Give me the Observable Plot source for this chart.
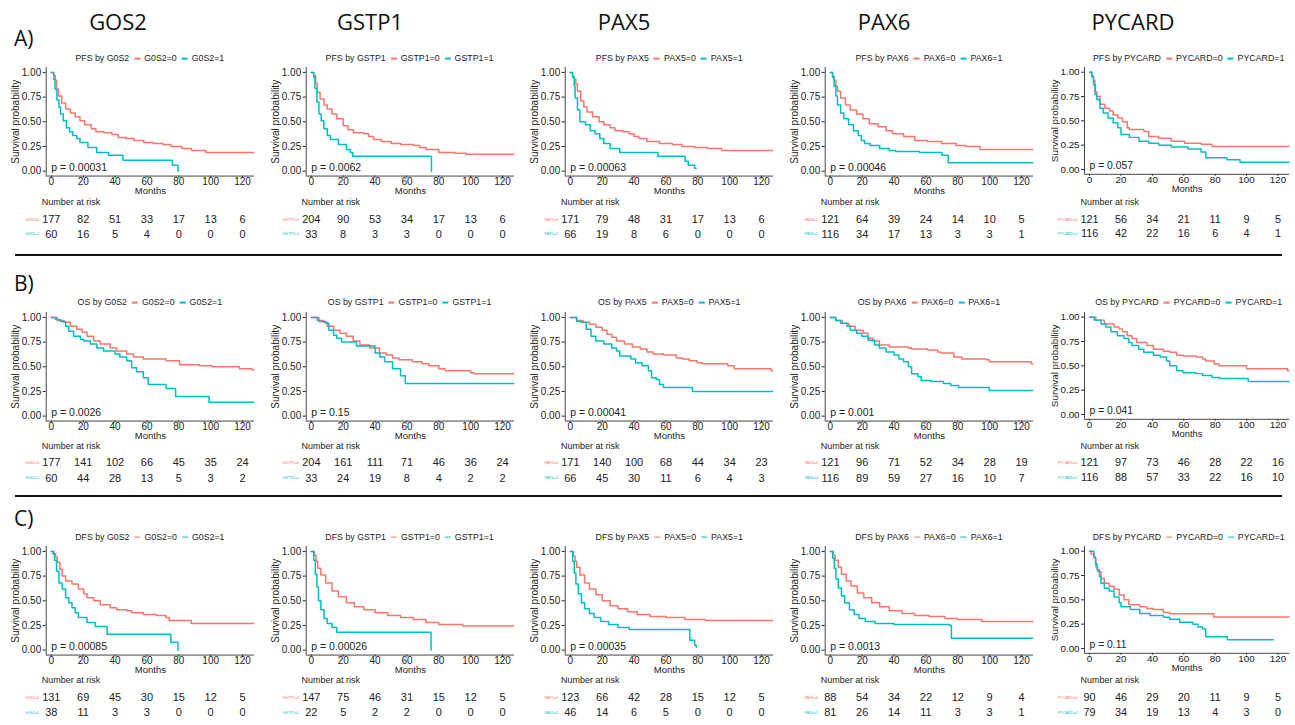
<!DOCTYPE html>
<html><head><meta charset="utf-8">
<script src="https://cdn.jsdelivr.net/npm/d3@7"></script>
<script src="https://cdn.jsdelivr.net/npm/@observablehq/plot@0.6"></script>
<style>
body{margin:0;background:#fff;}
#fig{position:relative;width:1295px;height:725px;overflow:hidden;font-family:"Liberation Sans",Arial,sans-serif;background:#fff;}
.abs{position:absolute;}
.hdr{font-family:"Open Sans",sans-serif;font-size:22px;color:#111;transform:translate(-50%,-50%);white-space:nowrap;line-height:1;}
.rowlab{font-family:"Open Sans",sans-serif;font-size:21px;color:#111;transform:translateY(-50%);line-height:1;}
.leg{font-size:8.8px;color:#222;transform:translate(-50%,-50%);white-space:nowrap;line-height:1;}
.key{display:inline-block;width:6px;height:1.4px;vertical-align:middle;margin:0 4px 0 5px;}
.nar{font-size:9px;color:#222;transform:translateY(-50%);white-space:nowrap;line-height:1;}
.sep{height:1.5px;background:#111;}
svg text{font-family:"Liberation Sans",Arial,sans-serif;}
</style></head><body><div id="fig"></div>
<script>
// ---------- labels ----------
const genes = ["G0S2","GSTP1","PAX5","PAX6","PYCARD"];
const headers = ["GOS2","GSTP1","PAX5","PAX6","PYCARD"];
const endpoints = ["PFS","OS","DFS"];
const rowLabels = ["A)","B)","C)"];
const xTicks = [0,20,40,60,80,100,120];
const yTicks = [0,0.25,0.5,0.75,1];
const riskTimes = [0,20,40,60,80,100,120];
const colors = ["#F8766D","#00BFC4"];
const pPFS = ["0.00031","0.0062","0.00063","0.00046","0.057"];
const pOS  = ["0.0026","0.15","0.00041","0.001","0.041"];
const pDFS = ["0.00085","0.00026","0.00035","0.0013","0.11"];

// ---------- KM curves [months, survival] ----------
const pfs_G0S2_0 = [[0,1],[1.5,0.97],[2.5,0.92],[3.3,0.83],[4.5,0.76],[6.5,0.69],[9,0.63],[12,0.59],[15,0.55],[18,0.51],[21,0.47],[25,0.43],[28,0.40],[33,0.39],[38,0.37],[42,0.34],[47,0.33],[52,0.31],[58,0.29],[64,0.28],[70,0.27],[75,0.25],[82,0.23],[88,0.21],[97,0.19],[127,0.19]];
const pfs_G0S2_1 = [[0,1],[1.5,0.93],[2.3,0.83],[3.5,0.72],[4.8,0.65],[5.8,0.58],[7.5,0.51],[9.5,0.44],[11.5,0.40],[13.5,0.36],[16,0.33],[18,0.29],[23,0.24],[28.5,0.19],[36,0.16],[45,0.11],[76,0.06],[79.5,0.0]];
const pfs_GSTP1_0 = [[0,1],[1.5,0.97],[2.7,0.89],[3.7,0.80],[5.5,0.73],[8,0.67],[10,0.63],[13,0.58],[16,0.53],[20,0.46],[23,0.42],[26.5,0.39],[33,0.38],[36,0.35],[39,0.32],[44,0.30],[50,0.28],[56,0.27],[64,0.26],[68,0.24],[72,0.22],[80,0.19],[90,0.18],[97,0.17],[127,0.17]];
const pfs_GSTP1_1 = [[0,1],[1.5,0.95],[2.3,0.84],[3.5,0.70],[4.8,0.58],[6.2,0.51],[7.9,0.43],[10,0.36],[12,0.32],[17,0.27],[22,0.22],[24.5,0.19],[26,0.15],[75.3,0.15],[75.4,0]];
const pfs_PAX5_0 = [[0,1],[1.5,0.96],[2.5,0.93],[3.5,0.88],[4.5,0.81],[6.5,0.71],[8.5,0.65],[10.5,0.60],[14,0.55],[18,0.50],[21,0.47],[25,0.44],[28,0.41],[33,0.40],[37,0.38],[40,0.35],[43,0.33],[48,0.30],[56,0.28],[64,0.27],[70,0.25],[78,0.24],[86,0.23],[95,0.21],[127,0.21]];
const pfs_PAX5_1 = [[0,1],[1.4,0.95],[2.5,0.86],[3,0.74],[4.5,0.62],[6,0.50],[9.5,0.47],[12.5,0.41],[15.5,0.38],[18.5,0.33],[21,0.28],[25,0.23],[31,0.19],[55,0.15],[72,0.10],[74,0.06],[78,0.03],[79,0.03]];
const pfs_PAX6_0 = [[0,1],[1.5,0.96],[2.5,0.92],[3.5,0.86],[4.5,0.81],[6.5,0.74],[9.5,0.67],[12.5,0.62],[16.5,0.58],[20.5,0.53],[24.5,0.48],[30,0.45],[35,0.41],[39,0.38],[46,0.35],[53,0.31],[61,0.30],[70,0.28],[79,0.26],[85,0.25],[94,0.22],[127,0.22]];
const pfs_PAX6_1 = [[0,1],[1.4,0.95],[2.4,0.86],[3.5,0.76],[4.5,0.67],[6.5,0.59],[8.5,0.53],[11.5,0.47],[14.5,0.41],[17.5,0.36],[19.5,0.31],[21.5,0.28],[25,0.26],[31,0.23],[37,0.21],[41,0.20],[56,0.19],[70,0.16],[74,0.085],[127,0.085]];
const pfs_PYCARD_0 = [[0,1],[1.5,0.96],[2.5,0.91],[3.5,0.80],[4.6,0.75],[6.6,0.67],[9.7,0.63],[12.8,0.60],[15,0.56],[18,0.53],[21,0.49],[24,0.43],[25.3,0.41],[34.6,0.39],[37.7,0.34],[44,0.32],[52,0.29],[60.5,0.27],[71,0.26],[78,0.235],[127,0.235]];
const pfs_PYCARD_1 = [[0,1],[1.5,0.95],[2.5,0.87],[3.5,0.77],[4.6,0.72],[6.6,0.63],[8.7,0.58],[11.8,0.53],[15,0.48],[18,0.43],[20,0.36],[25.3,0.33],[31.5,0.29],[37.7,0.27],[44,0.25],[52,0.23],[62.6,0.21],[71,0.18],[74,0.12],[87.5,0.10],[95.8,0.075],[127,0.075]];

const os_G0S2_0 = [[0,1],[3.7,0.97],[7.9,0.95],[12,0.91],[16,0.88],[19.3,0.85],[22.4,0.81],[26.6,0.76],[30.7,0.73],[37,0.69],[41,0.66],[47.3,0.63],[51.5,0.60],[57.7,0.58],[72,0.56],[80.5,0.52],[93,0.51],[101,0.50],[118,0.48],[126,0.47],[127,0.47]];
const os_G0S2_1 = [[0,1],[2.7,0.98],[5.8,0.96],[9,0.91],[11,0.86],[14,0.81],[18.3,0.78],[20.3,0.76],[24.5,0.73],[28.6,0.69],[32.8,0.66],[40,0.63],[43,0.60],[47.3,0.56],[50.4,0.49],[53.5,0.45],[57.7,0.39],[60.8,0.32],[72,0.28],[78,0.20],[99,0.14],[127,0.14]];
const os_GSTP1_0 = [[0,1],[3.7,0.97],[7.8,0.95],[9.9,0.91],[14,0.87],[18,0.84],[22,0.81],[26.3,0.76],[30.5,0.72],[36.6,0.69],[42.8,0.64],[47,0.62],[51,0.59],[55,0.57],[63.4,0.55],[69.5,0.53],[73.7,0.51],[80,0.48],[84,0.46],[100,0.44],[102,0.43],[127,0.43]];
const os_GSTP1_1 = [[0,1],[4.7,0.96],[8.9,0.94],[11,0.87],[14,0.82],[16,0.79],[19,0.75],[28.4,0.71],[40,0.64],[43,0.60],[46,0.55],[51,0.48],[56,0.41],[59,0.33],[127,0.33]];
const os_PAX5_0 = [[0,1],[4,0.97],[8,0.95],[12,0.93],[16,0.90],[20,0.87],[23,0.83],[26,0.80],[29,0.76],[34,0.73],[39,0.70],[44,0.68],[48,0.65],[52,0.63],[58.5,0.62],[66.5,0.59],[70.5,0.58],[74.6,0.56],[79.6,0.54],[82.7,0.53],[98.8,0.51],[102.8,0.48],[126,0.46],[127,0.46]];
const os_PAX5_1 = [[0,1],[4,0.96],[7,0.95],[10,0.88],[13,0.81],[16,0.76],[21,0.73],[26,0.69],[29,0.66],[31,0.61],[38,0.58],[41,0.54],[45,0.51],[49,0.46],[51,0.39],[54,0.37],[56,0.32],[58.5,0.29],[76.6,0.25],[127,0.25]];
const os_PAX6_0 = [[0,1],[3.4,0.97],[7.5,0.94],[11.6,0.91],[15.6,0.87],[20.7,0.84],[23.7,0.79],[26.8,0.76],[30.8,0.72],[37,0.70],[49,0.69],[51,0.68],[61,0.67],[67.3,0.65],[69.4,0.64],[77.5,0.60],[82.6,0.58],[97.8,0.57],[99.8,0.55],[126,0.53],[127,0.53]];
const os_PAX6_1 = [[0,1],[3.4,0.97],[6.5,0.94],[10.5,0.91],[12.6,0.87],[16.6,0.84],[19.7,0.81],[23.7,0.77],[27.8,0.72],[30.8,0.69],[35,0.65],[40,0.62],[43,0.58],[46,0.55],[49,0.50],[51,0.43],[55,0.40],[57,0.36],[63,0.35],[71,0.33],[75.5,0.31],[80.5,0.29],[99.8,0.26],[127,0.26]];
const os_PYCARD_0 = [[0,1],[4,0.97],[9.4,0.93],[15.6,0.90],[18.8,0.88],[21,0.85],[24,0.81],[27,0.78],[30,0.74],[36.5,0.71],[40.7,0.67],[47,0.65],[51,0.64],[55.4,0.61],[59.5,0.60],[67.8,0.59],[72,0.57],[74,0.55],[79.4,0.52],[82.5,0.50],[100,0.47],[126,0.45],[127,0.45]];
const os_PYCARD_1 = [[0,1],[3,0.97],[7.3,0.93],[10.4,0.90],[13.6,0.85],[17.7,0.81],[22,0.78],[25,0.74],[27,0.71],[31.3,0.67],[34.5,0.64],[40.7,0.61],[45,0.59],[49,0.55],[51,0.50],[55.4,0.45],[59.5,0.43],[67.8,0.42],[72,0.40],[78,0.38],[82.5,0.37],[101,0.34],[127,0.34]];

const dfs_G0S2_0 = [[0,1],[1.7,0.98],[2.7,0.94],[3.7,0.89],[5.4,0.82],[6.8,0.75],[9,0.70],[13,0.67],[17,0.62],[20.3,0.57],[22.4,0.53],[26.6,0.50],[30.7,0.46],[37,0.43],[41,0.41],[47.3,0.40],[50.4,0.38],[57.7,0.36],[66,0.35],[72,0.33],[74,0.30],[87.8,0.27],[127,0.27]];
const dfs_G0S2_1 = [[0,1],[1.2,0.97],[2,0.91],[3.3,0.80],[4.8,0.68],[6.8,0.62],[9,0.53],[11,0.48],[13,0.43],[15,0.38],[17,0.33],[22.4,0.28],[27.6,0.24],[35,0.16],[75,0.08],[79.5,0.0]];
const dfs_GSTP1_0 = [[0,1],[2,0.96],[3,0.90],[4,0.83],[6,0.76],[9,0.68],[13,0.60],[17,0.54],[22,0.48],[27,0.44],[33,0.41],[40,0.38],[48,0.35],[56,0.33],[64,0.31],[72,0.28],[80,0.26],[95,0.245],[127,0.245]];
const dfs_GSTP1_1 = [[0,1],[1.5,0.91],[2.5,0.77],[3.5,0.64],[4.5,0.50],[6,0.41],[8,0.32],[10,0.27],[13,0.23],[16,0.18],[75,0.18],[75.1,0]];
const dfs_PAX5_0 = [[0,1],[2,0.95],[3,0.90],[4,0.84],[6,0.76],[9,0.68],[12,0.62],[16,0.56],[20,0.50],[25,0.45],[30,0.42],[36,0.39],[42,0.36],[50,0.34],[60,0.33],[72,0.31],[85,0.30],[127,0.30]];
const dfs_PAX5_1 = [[0,1],[1.5,0.90],[2.5,0.78],[3.5,0.67],[5,0.57],[7,0.48],[9,0.42],[12,0.37],[15,0.33],[19,0.29],[24,0.26],[30,0.23],[37,0.21],[73,0.21],[75,0.10],[78,0.05],[79,0.03]];
const dfs_PAX6_0 = [[0,1],[2,0.96],[3,0.91],[5,0.84],[7,0.77],[10,0.70],[13,0.65],[17,0.58],[21,0.53],[26,0.48],[31,0.44],[37,0.40],[45,0.37],[53,0.35],[62,0.34],[72,0.32],[80,0.31],[95,0.29],[127,0.29]];
const dfs_PAX6_1 = [[0,1],[1.5,0.93],[2.5,0.83],[3.5,0.72],[5,0.63],[7,0.55],[9,0.48],[12,0.41],[15,0.36],[18,0.32],[22,0.29],[28,0.27],[40,0.26],[75,0.25],[76,0.12],[127,0.12]];
const dfs_PYCARD_0 = [[0,1],[1,0.97],[3,0.93],[4,0.84],[5.2,0.79],[7.3,0.72],[9.4,0.67],[12.5,0.64],[15.6,0.61],[18.8,0.55],[22,0.50],[25,0.45],[32,0.43],[36.5,0.41],[40.7,0.40],[47,0.37],[51,0.357],[79,0.323],[127,0.323]];
const dfs_PYCARD_1 = [[0,1],[2.7,0.94],[3.8,0.87],[4.8,0.81],[6.3,0.74],[7.3,0.67],[9.4,0.62],[12.5,0.59],[15.6,0.53],[18.8,0.47],[20,0.43],[26,0.40],[32,0.36],[38.6,0.34],[47,0.32],[51,0.30],[57.4,0.27],[65.8,0.25],[69,0.22],[72,0.20],[74,0.12],[87.7,0.09],[117,0.09]];

// ---------- numbers at risk (rows: =0, =1) ----------
const risk_PFS_G0S2   = [[177,82,51,33,17,13,6],[60,16,5,4,0,0,0]];
const risk_PFS_GSTP1  = [[204,90,53,34,17,13,6],[33,8,3,3,0,0,0]];
const risk_PFS_PAX5   = [[171,79,48,31,17,13,6],[66,19,8,6,0,0,0]];
const risk_PFS_PAX6   = [[121,64,39,24,14,10,5],[116,34,17,13,3,3,1]];
const risk_PFS_PYCARD = [[121,56,34,21,11,9,5],[116,42,22,16,6,4,1]];
const risk_OS_G0S2    = [[177,141,102,66,45,35,24],[60,44,28,13,5,3,2]];
const risk_OS_GSTP1   = [[204,161,111,71,46,36,24],[33,24,19,8,4,2,2]];
const risk_OS_PAX5    = [[171,140,100,68,44,34,23],[66,45,30,11,6,4,3]];
const risk_OS_PAX6    = [[121,96,71,52,34,28,19],[116,89,59,27,16,10,7]];
const risk_OS_PYCARD  = [[121,97,73,46,28,22,16],[116,88,57,33,22,16,10]];
const risk_DFS_G0S2   = [[131,69,45,30,15,12,5],[38,11,3,3,0,0,0]];
const risk_DFS_GSTP1  = [[147,75,46,31,15,12,5],[22,5,2,2,0,0,0]];
const risk_DFS_PAX5   = [[123,66,42,28,15,12,5],[46,14,6,5,0,0,0]];
const risk_DFS_PAX6   = [[88,54,34,22,12,9,4],[81,26,14,11,3,3,1]];
const risk_DFS_PYCARD = [[90,46,29,20,11,9,5],[79,34,19,13,4,3,0]];

// ---------- assemble ----------
const curves = [
  [[pfs_G0S2_0,pfs_G0S2_1],[pfs_GSTP1_0,pfs_GSTP1_1],[pfs_PAX5_0,pfs_PAX5_1],[pfs_PAX6_0,pfs_PAX6_1],[pfs_PYCARD_0,pfs_PYCARD_1]],
  [[os_G0S2_0,os_G0S2_1],[os_GSTP1_0,os_GSTP1_1],[os_PAX5_0,os_PAX5_1],[os_PAX6_0,os_PAX6_1],[os_PYCARD_0,os_PYCARD_1]],
  [[dfs_G0S2_0,dfs_G0S2_1],[dfs_GSTP1_0,dfs_GSTP1_1],[dfs_PAX5_0,dfs_PAX5_1],[dfs_PAX6_0,dfs_PAX6_1],[dfs_PYCARD_0,dfs_PYCARD_1]]
];
const risks = [
  [risk_PFS_G0S2,risk_PFS_GSTP1,risk_PFS_PAX5,risk_PFS_PAX6,risk_PFS_PYCARD],
  [risk_OS_G0S2,risk_OS_GSTP1,risk_OS_PAX5,risk_OS_PAX6,risk_OS_PYCARD],
  [risk_DFS_G0S2,risk_DFS_GSTP1,risk_DFS_PAX5,risk_DFS_PAX6,risk_DFS_PYCARD]
];
const pvals = [pPFS,pOS,pDFS];

// ---------- layout ----------
const COLW = 259.7;
const PW = 260, ML = 45.7, MR = 6;
const xDomain = [-3.2, 127.5];
const yDomain = [-0.05, 1.05];
const SPAN = 98.7;                      // px between 0 and 1
const y1Row = [71.7, 316.5, 550.7];     // pixel y of 1.00
const legY = [58.3, 302.3, 536.7];
const narY = [201.7, 445.7, 680];
const riskY = [[219,233.5],[462.3,478],[696.7,712]];
const hdrX = [118, 370, 624, 884, 1133];
const hdrY = 21;
const rowLabY = [38, 283, 518];
const sepY = [254, 495];

const fig = document.getElementById("fig");
function addDiv(cls, left, top, html, extra) {
  const d = document.createElement("div");
  d.className = "abs " + cls;
  d.style.left = left + "px"; d.style.top = top + "px";
  if (extra) Object.assign(d.style, extra);
  d.innerHTML = html;
  fig.appendChild(d);
  return d;
}

headers.forEach((h,i) => addDiv("hdr", hdrX[i], hdrY, h));
rowLabels.forEach((l,i) => addDiv("rowlab", 14, rowLabY[i], l));
sepY.forEach(y => addDiv("sep", 15, y, "", {width: "1267px"}));

const MT = 10, MB = 28;
const frameH = SPAN * (yDomain[1]-yDomain[0]);
const CH = MT + frameH + MB;
const fmt2 = d3.format(".2f");

function curvePlot(series, pval) {
  const data = [];
  series.forEach((pts, g) => pts.forEach(([t, s]) => data.push({t, s, g})));
  return Plot.plot({
    width: PW, height: CH,
    marginLeft: ML, marginRight: MR, marginTop: MT, marginBottom: MB,
    x: {domain: xDomain},
    y: {domain: yDomain},
    style: {fontFamily: "'Liberation Sans', Arial, sans-serif", fontSize: "10px", color: "#222", background: "transparent", overflow: "visible"},
    marks: [
      Plot.axisX({ticks: xTicks, tickSize: 2, tickPadding: 0, label: null, fontSize: 10}),
      Plot.axisY({ticks: yTicks, tickSize: 3, tickPadding: 2, tickFormat: fmt2, fontSize: 10,
                  label: "Survival probability", labelAnchor: "center", labelOffset: 34, labelArrow: "none"}),
      Plot.ruleY([yDomain[0]], {stroke: "#444", strokeWidth: 1}),
      Plot.ruleX([xDomain[0]], {stroke: "#444", strokeWidth: 1}),
      Plot.line(data, {x: "t", y: "s", z: "g", stroke: d => colors[d.g], curve: "step-after", strokeWidth: 1.5}),
      Plot.text([pval], {x: 0, y: 0.035, text: d => "p = " + d, textAnchor: "start", fontSize: 10.5, fill: "#222"}),
      Plot.text(["Months"], {frameAnchor: "bottom", lineAnchor: "middle", dy: 14.5, text: d => d, fontSize: 9.5, fill: "#222"})
    ]
  });
}

function riskPlot(rows, gene, rY) {
  const RT = 8, RD = rY[1] - rY[0];
  const data = [];
  rows.forEach((vals, g) => vals.forEach((n, i) => data.push({t: riskTimes[i], n, g})));
  const svg = Plot.plot({
    width: PW, height: RT + RD + 8,
    marginLeft: ML, marginRight: MR, marginTop: 0, marginBottom: 0,
    x: {domain: xDomain, axis: null},
    y: {domain: [0, 1], range: [RT, RT + RD], axis: null},
    style: {fontFamily: "'Liberation Sans', Arial, sans-serif", background: "transparent", overflow: "visible"},
    marks: [
      Plot.text(data, {x: "t", y: "g", text: "n", fontSize: 11, fill: "#222"}),
      Plot.text([0, 1], {y: d => d, text: d => `${gene}=${d}`, frameAnchor: "left", textAnchor: "end", dx: -7, fontSize: 3.8, fill: d => colors[d]})
    ]
  });
  return {svg, top: rY[0] - RT};
}

for (let r = 0; r < 3; r++) {
  for (let c = 0; c < 5; c++) {
    const left = c * COLW;
    const gene = genes[c];
    addDiv("leg", left + ML + (PW - ML - MR) / 2, legY[r],
      `${endpoints[r]} by ${gene}<span class="key" style="background:${colors[0]}"></span>${gene}=0<span class="key" style="background:${colors[1]}"></span>${gene}=1`);
    const cp = curvePlot(curves[r][c], pvals[r][c]);
    const top = y1Row[r] - SPAN * (yDomain[1] - 1) - MT;
    const wrap = addDiv("", left, top, "");
    wrap.appendChild(cp);
    addDiv("nar", left + 41.7, narY[r], "Number at risk");
    const rp = riskPlot(risks[r][c], gene, riskY[r]);
    const w2 = addDiv("", left, rp.top, "");
    w2.appendChild(rp.svg);
  }
}
</script></body></html>
